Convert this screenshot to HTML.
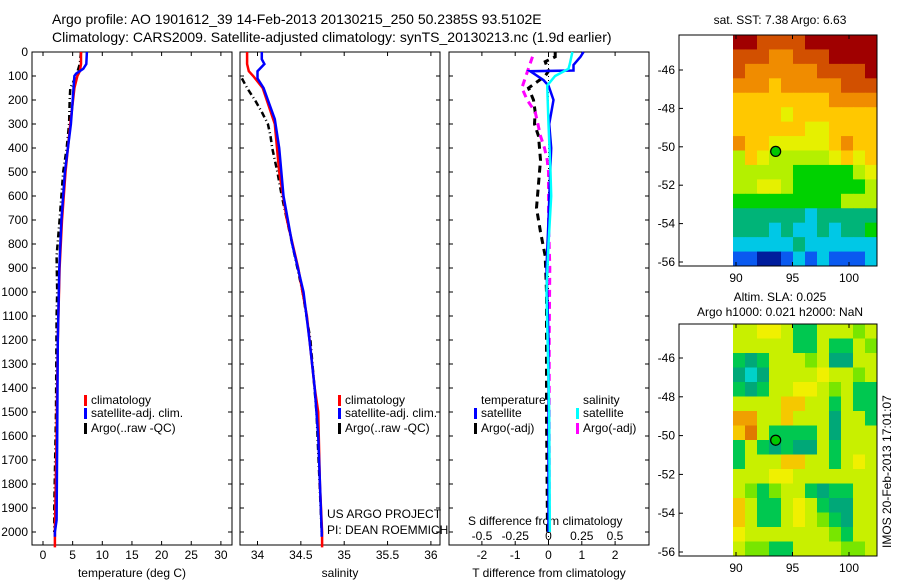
<!DOCTYPE html>
<html><head><meta charset="utf-8"><style>
body{margin:0;background:#fff;}
svg{display:block;font-family:"Liberation Sans",sans-serif;}
text{fill:#000;}
</style></head><body>
<svg id="s" width="900" height="580" xmlns="http://www.w3.org/2000/svg">
<text x="52" y="24" font-size="14">Argo profile: AO 1901612_39 14-Feb-2013 20130215_250 50.2385S 93.5102E</text>
<text x="52" y="42" font-size="14">Climatology: CARS2009. Satellite-adjusted climatology: synTS_20130213.nc (1.9d earlier)</text>
<text x="780" y="24" font-size="12" text-anchor="middle">sat. SST: 7.38 Argo: 6.63</text>
<text x="780" y="301" font-size="12" text-anchor="middle">Altim. SLA: 0.025</text>
<text x="780" y="316" font-size="12" text-anchor="middle">Argo h1000: 0.021 h2000: NaN</text>
<text transform="translate(891,548) rotate(-90)" font-size="12">IMOS 20-Feb-2013 17:01:07</text>
</svg>
<script>
// ---- profile data ----
const tClimDepth=[0,50,80,100,150,300,500,700,900,1200,1600,2000,2064];
const tClimVal=[6.4,6.4,6.2,5.8,5.3,4.6,3.8,3.2,2.8,2.5,2.3,2.0,2.0];
const tSatDepth=[0,50,70,90,100,200,300,500,700,900,1200,1600,1950,2000,2020];
const tSatVal=[7.4,7.3,6.8,5.6,5.3,5.0,4.7,3.7,3.1,2.75,2.5,2.4,2.3,2.0,2.0];
const tArgoDepth=[0,50,100,150,200,300,400,500,700,850,1000,1100,1500,1900,2000];
const tArgoVal=[6.4,6.2,5.6,4.6,4.5,4.4,4.0,3.4,2.8,2.3,2.4,2.3,2.2,1.9,1.9];
const sClimDepth=[0,50,80,100,150,300,500,700,900,1100,1200,1400,1500,1800,2000,2064];
const sClimVal=[33.88,33.88,33.9,33.95,34.06,34.2,34.25,34.34,34.47,34.57,34.6,34.66,34.7,34.72,34.745,34.745];
const sSatDepth=[0,30,50,80,110,150,200,280,400,600,800,1000,1200,1400,1600,2000,2020];
const sSatVal=[34.05,34.05,34.08,34.0,34.0,34.07,34.12,34.2,34.25,34.3,34.4,34.53,34.6,34.66,34.7,34.74,34.74];
const sArgoDepth=[110,150,200,250,300,350,400,500,600,800,1000,1200,1500,2000];
const sArgoVal=[33.82,33.88,33.97,34.05,34.12,34.15,34.17,34.23,34.28,34.4,34.52,34.61,34.68,34.74];
const dTSatDepth=[0,20,54,77,80,117,140,200,300,400,500,700,900,1200,2000];
const dTSatVal=[1.05,0.96,0.75,0.75,-0.55,-0.15,0,0.15,0.02,0.08,0.05,0,-0.06,0,0];
const dSSatDepth=[0,50,70,100,140,300,500,600,800,1000,1500,2000];
const dSSatVal=[0.18,0.16,0.15,0.05,-0.01,0,0.015,0.02,0,-0.015,0.005,0.01];
const dSArgoDepth=[20,100,150,200,250,300,350,400,450,500,700,900,1200,2000];
const dSArgoVal=[-0.12,-0.17,-0.2,-0.16,-0.1,-0.08,-0.06,-0.03,-0.01,0,0,0.01,0.005,0.005];
const dTArgoDepth=[0,20,40,80,100,150,200,250,300,350,450,550,650,750,850,1000,1500,2000];
const dTArgoVal=[0.2,0.2,-0.1,0,-0.1,-0.6,-0.45,-0.4,-0.42,-0.3,-0.24,-0.3,-0.36,-0.24,-0.1,-0.06,-0.06,-0.03];
const depthTicks=[0,100,200,300,400,500,600,700,800,900,1000,1100,1200,1300,1400,1500,1600,1700,1800,1900,2000];
const tTicks=[0,5,10,15,20,25,30];
const sTicks=[34,34.5,35,35.5,36];
const sTickLabels=["34","34.5","35","35.5","36"];
const dTTicks=[-2,-1,0,1,2];
const dSTicks=[-0.5,-0.25,0,0.25,0.5];
const dSTickLabels=["-0.5","-0.25","0","0.25","0.5"];
// ---- map data (colour class per cell, rows north->south) ----
const sstGrid=[
[9,9,8,8,8,8,9,9,9,9,9,9],[8,8,8,7,7,8,8,8,9,9,9,9],[8,7,7,7,7,7,7,8,8,8,8,9],[7,7,7,6,7,7,7,7,7,8,8,8],
[6,6,6,6,6,6,6,6,7,7,7,7],[6,6,6,6,5,6,6,6,6,6,6,6],[6,6,6,6,6,6,5,5,6,6,6,6],[7,6,6,5,5,5,5,5,6,7,6,6],
[4,6,5,4,4,4,4,4,5,6,5,6],[4,4,4,4,4,3,3,3,3,3,4,5],[4,4,5,5,4,3,3,3,3,3,3,4],[3,3,3,3,3,3,3,3,3,4,4,4],
[2,2,2,2,2,2,1,2,2,2,2,2],[2,2,2,1,2,1,1,2,1,2,2,3],[1,1,1,1,1,2,1,1,1,1,1,1],[0,0,-1,-1,0,1,0,1,0,0,0,1]];
const slaGrid=[
[4,4,5,5,4,2,2,4,4,4,3,4],[4,4,4,4,4,2,2,4,2,2,4,3],[2,1,2,4,4,4,3,4,1,1,4,4],[1,0,1,4,4,4,4,5,4,4,3,4],
[2,1,2,4,4,5,5,4,3,4,2,2],[4,4,4,4,6,6,4,4,2,4,2,2],[7,7,4,4,6,4,4,4,1,4,4,2],[6,8,4,2,2,2,2,4,1,4,4,4],
[2,4,2,1,2,1,1,4,2,4,4,4],[2,4,4,4,6,6,4,4,2,4,5,4],[4,4,4,5,5,4,4,4,4,4,4,4],[4,3,2,3,4,4,2,1,2,2,4,4],
[6,4,2,2,4,5,4,2,1,1,4,4],[6,4,2,2,4,5,4,3,2,1,4,4],[5,4,4,4,4,4,4,4,3,2,4,4],[4,3,3,2,2,4,4,4,4,3,3,4]];
const latTicks=[-46,-48,-50,-52,-54,-56];
const lonTicks=[90,95,100];
const argoLon=93.5102, argoLat=-50.2385;

const NS="http://www.w3.org/2000/svg";
const svg=document.getElementById('s');
function mk(tag,attrs,parent){const e=document.createElementNS(NS,tag);for(const k in attrs)e.setAttribute(k,attrs[k]);(parent||svg).appendChild(e);return e;}
const Y=d=>52+0.24*d;
const xT=v=>43+5.93*v, xS=v=>257.5+86.7*(v-34), xdT=v=>548.5+33.3*v, xdS=v=>548.5+133*v;
const panels=[{x0:32,x1:232,f:xT,ticks:tTicks,lab:tTicks.map(String),title:"temperature (deg C)",name:"temperature-panel"},
{x0:240,x1:440,f:xS,ticks:sTicks,lab:sTickLabels,title:"salinity",name:"salinity-panel"},
{x0:449,x1:649,f:xdT,ticks:dTTicks,lab:dTTicks.map(String),title:"T difference from climatology",name:"difference-panel"}];
panels.forEach((p,i)=>{
  const g=mk('g',{});
  
  
  const r=mk('rect',{x:p.x0,y:52,width:p.x1-p.x0,height:493,fill:'none',stroke:'#000','stroke-width':1},g);
  
  
  depthTicks.forEach(d=>{
    mk('line',{x1:p.x0,x2:p.x0+4,y1:Y(d),y2:Y(d),stroke:'#000'},g);
    mk('line',{x1:p.x1,x2:p.x1-4,y1:Y(d),y2:Y(d),stroke:'#000'},g);
    if(i===0){const t=mk('text',{x:28,y:Y(d)+4,'font-size':12,'text-anchor':'end'},g);t.textContent=d;
      
      }
  });
  p.ticks.forEach((v,k)=>{const x=p.f(v);
    mk('line',{x1:x,x2:x,y1:52,y2:56,stroke:'#000'},g);mk('line',{x1:x,x2:x,y1:545,y2:541,stroke:'#000'},g);
    const t=mk('text',{x:x,y:559,'font-size':12,'text-anchor':'middle'},g);t.textContent=p.lab[k];
    
    });
  const tt=mk('text',{x:(p.x0+p.x1)/2,y:577,'font-size':12,'text-anchor':'middle'},g);tt.textContent=p.title;
  
  
});
// zero line
const zl=mk('line',{x1:xdT(0),x2:xdT(0),y1:52,y2:545,stroke:'#000','stroke-dasharray':'1,3'});


// S diff labels
dSTicks.forEach((v,k)=>{const t=mk('text',{x:xdS(v),y:540,'font-size':12,'text-anchor':'middle'});t.textContent=dSTickLabels[k];
  
  });
const sdt=mk('text',{x:468,y:525,'font-size':12});sdt.textContent="S difference from climatology";


function line(depths,vals,f,color,dash,name,w){
  const pts=depths.map((d,k)=>f(vals[k]).toFixed(1)+','+Y(d).toFixed(1)).join(' ');
  const a={points:pts,fill:'none',stroke:color,'stroke-width':w||2.5};if(dash)a['stroke-dasharray']=dash;
  const e=mk('polyline',a);
  
  
}
line(tArgoDepth,tArgoVal,xT,'#000','6,3,1,3','temperature-argo-line');
line(tClimDepth,tClimVal,xT,'#f00',null,'temperature-climatology-line');
line(tSatDepth,tSatVal,xT,'#00f',null,'temperature-satellite-line');
line(sArgoDepth,sArgoVal,xS,'#000','6,3,1,3','salinity-argo-line');
line(sClimDepth,sClimVal,xS,'#f00',null,'salinity-climatology-line');
line(sSatDepth,sSatVal,xS,'#00f',null,'salinity-satellite-line');
line(dTArgoDepth,dTArgoVal,xdT,'#000','7,5','t-diff-argo-line',3);
line(dSArgoDepth,dSArgoVal,xdS,'#f0f','7,5','s-diff-argo-line',3);
line(dTSatDepth,dTSatVal,xdT,'#00f',null,'t-diff-satellite-line');
line(dSSatDepth,dSSatVal,xdS,'#0ff',null,'s-diff-satellite-line');
// legends
function leg(x,y,color,label,name){const g=mk('g',{});
  
  
  mk('rect',{x:x,y:y-9,width:3,height:11,fill:color},g);
  const t=mk('text',{x:x+7,y:y,'font-size':12},g);t.textContent=label;}
leg(84,404,'#f00','climatology','legend-climatology');
leg(84,417,'#00f','satellite-adj. clim.','legend-satellite');
leg(84,432,'#000','Argo(..raw -QC)','legend-argo');
leg(338,404,'#f00','climatology','legend-climatology-2');
leg(338,417,'#00f','satellite-adj. clim.','legend-satellite-2');
leg(338,432,'#000','Argo(..raw -QC)','legend-argo-2');
leg(474,417,'#00f','satellite','legend-t-satellite');
leg(474,432,'#000','Argo(-adj)','legend-t-argo');
leg(576,417,'#0ff','satellite','legend-s-satellite');
leg(576,432,'#f0f','Argo(-adj)','legend-s-argo');
[[481,404,'temperature','legend-temperature-header'],[583,404,'salinity','legend-salinity-header'],[327,518,'US ARGO PROJECT','project-label'],[327,534,'PI: DEAN ROEMMICH','pi-label']].forEach(a=>{
  const t=mk('text',{x:a[0],y:a[1],'font-size':12});t.textContent=a[2];
  
  });
// maps
const sstCol={'-1':'#001c9c','0':'#0a5af0','1':'#00c8e6','2':'#00b478','3':'#00d200','4':'#b4f000','5':'#e6f000','6':'#ffc800','7':'#f08c00','8':'#d25000','9':'#a00000'};
const slaCol={'0':'#00d2c8','1':'#00a878','2':'#00c850','3':'#78e600','4':'#c8f000','5':'#f0f000','6':'#f5c800','7':'#f0a000','8':'#e07800'};
function map(grid,cols,top,bot,latTop,yPerDeg,name){
  const g=mk('g',{});
  
  
  const dx0=733,dx1=877,cw=(dx1-dx0)/grid[0].length,ch=(bot-top)/grid.length;
  grid.forEach((row,r)=>row.forEach((v,c)=>{const e=mk('rect',{x:dx0+c*cw,y:top+r*ch,width:cw+0.5,height:ch+0.5,fill:cols[v]},g);
    
    }));
  mk('rect',{x:679,y:top,width:198,height:bot-top,fill:'none',stroke:'#000'},g);
  const lonX=l=>736+11.3*(l-90), latY=l=>latTop+(-46-l)*yPerDeg;
  latTicks.forEach(l=>{const y=latY(l);mk('line',{x1:679,x2:683,y1:y,y2:y,stroke:'#000'},g);
    const t=mk('text',{x:675,y:y+4,'font-size':12,'text-anchor':'end'},g);t.textContent=l;
    
    });
  lonTicks.forEach(l=>{const x=lonX(l);mk('line',{x1:x,x2:x,y1:bot,y2:bot-4,stroke:'#000'},g);mk('line',{x1:x,x2:x,y1:top,y2:top+4,stroke:'#000'},g);
    const t=mk('text',{x:x,y:bot+16,'font-size':12,'text-anchor':'middle'},g);t.textContent=l;
    
    });
  const c=mk('circle',{cx:lonX(argoLon),cy:latY(argoLat),r:5,fill:'#00c800',stroke:'#000','stroke-width':1.2},g);
  
  
}
map(sstGrid,sstCol,35,266,70,19.2,'sst-map');
map(slaGrid,slaCol,324,556,358,19.4,'sla-map');
</script>
</body></html>
